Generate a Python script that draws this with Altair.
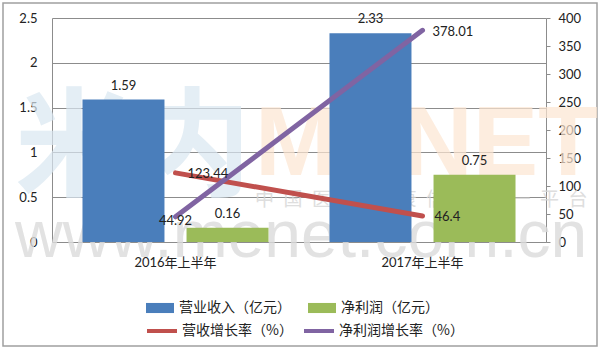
import altair as alt
import pandas as pd

categories = ["2016年上半年", "2017年上半年"]
revenue = [1.59, 2.33]
net_profit = [0.16, 0.75]
revenue_growth = [123.44, 46.4]
profit_growth = [44.92, 378.01]
left_ticks = [0, 0.5, 1, 1.5, 2, 2.5]
right_ticks = [0, 50, 100, 150, 200, 250, 300, 350, 400]

bar_series = ["营业收入（亿元）", "净利润（亿元）"]
line_series = ["营收增长率（%）", "净利润增长率（%）"]
bar_colors = ["#4a7ebb", "#9bbb59"]
line_colors = ["#c0504d", "#8064a2"]

FONT = "Lato, Noto Sans CJK SC"
CJK = "Noto Sans CJK SC"

bars_df = pd.DataFrame({
    "cat": categories * 2,
    "series": [bar_series[0]] * 2 + [bar_series[1]] * 2,
    "value": revenue + net_profit,
})
bars_df["label"] = bars_df["value"].map(lambda v: f"{v:g}")

lines_df = pd.DataFrame({
    "cat": categories * 2,
    "series": [line_series[0]] * 2 + [line_series[1]] * 2,
    "rate": revenue_growth + profit_growth,
})
lines_df["label"] = lines_df["rate"].map(lambda v: f"{v:g}")

x_scale = alt.Scale(domain=categories, paddingInner=0, paddingOuter=0)
x_axis = alt.Axis(
    title=None, labelAngle=0, ticks=False, domainColor="#8c8c8c",
    labelPadding=14, labelFontSize=13, labelColor="#222", labelFont=FONT,
)
y_left_scale = alt.Scale(domain=[0, 2.5], nice=False, zero=True)
y_right_scale = alt.Scale(domain=[0, 400], nice=False, zero=True)
offset_scale = alt.Scale(domain=bar_series, paddingInner=0.212, paddingOuter=0.293)

y_left_axis = alt.Axis(
    title=None, values=left_ticks, tickCount=6, format="~g", grid=True,
    gridColor="#8c8c8c", ticks=False, domainColor="#8c8c8c", labelPadding=15,
    labelFontSize=13, labelColor="#222", labelFont=FONT, labelOverlap=False,
)
y_right_axis = alt.Axis(
    title=None, orient="right", values=right_ticks, tickCount=9, grid=False,
    ticks=True, tickSize=4, tickColor="#8c8c8c", domainColor="#8c8c8c",
    labelPadding=8, labelFontSize=13, labelColor="#222", labelFont=FONT,
    labelOverlap=False,
)

# watermark (decoration)
wm = alt.Data(values=[{}])
wm_www = alt.Chart(wm).mark_text(
    text="www.menet.com.cn", font="Liberation Sans", fontSize=66, align="left",
    baseline="alphabetic", color="#dcdcdc", opacity=0.8,
).encode(x=alt.value(-37), y=alt.value(239))
wm_menet = alt.Chart(wm).mark_text(
    text="MENET", font="Liberation Sans", fontSize=98, fontWeight="bold", align="left",
    baseline="alphabetic", color="#fde6d2", opacity=0.7,
).encode(x=alt.value(203), y=alt.value(157))
wm_cn = alt.Chart(wm).mark_text(
    text="米内", font=CJK, fontSize=118, fontWeight="bold", align="left",
    baseline="middle", color="#d9e7f1", opacity=0.7,
).encode(x=alt.value(-37), y=alt.value(134))
wm_sub = alt.Chart(wm).mark_text(
    text="中\u2002国\u2002医\u2002药\u2002健\u2002康\u2002信\u2002息\u2002第\u2002一\u2002平\u2002台",
    font=CJK, fontSize=19, align="left", baseline="middle", color="#d6d6d6", opacity=0.8,
).encode(x=alt.value(203), y=alt.value(182))

border = alt.Chart(wm).mark_rect(fillOpacity=0, stroke="#a0a0a0", strokeWidth=1.5).encode(
    x=alt.value(-49), y=alt.value(-15), x2=alt.value(545), y2=alt.value(328)
)

X = alt.X("cat:N", scale=x_scale, axis=x_axis, sort=categories)
XO = alt.XOffset("series:N", scale=offset_scale, sort=bar_series)
YL = alt.Y("value:Q", scale=y_left_scale, axis=y_left_axis)
YR = alt.Y("rate:Q", scale=y_right_scale, axis=y_right_axis)

bars = alt.Chart(bars_df).mark_bar().encode(
    x=X, xOffset=XO, y=YL,
    fill=alt.Fill("series:N", scale=alt.Scale(domain=bar_series, range=bar_colors), sort=bar_series,
                  legend=alt.Legend(
                      title=None, orient="none", legendX=94, legendY=276, direction="horizontal",
                      columns=2, labelFont=CJK, labelFontSize=14, labelColor="#222",
                      symbolType="M-1,-0.36H1V0.36H-1Z", symbolSize=784, symbolStrokeWidth=0,
                      columnPadding=17, labelOffset=5, padding=0,
                  )),
)
bar_text = alt.Chart(bars_df).mark_text(
    font=FONT, fontSize=13, color="#222", baseline="middle", dy=-14,
).encode(x=X, xOffset=XO, y=YL, text="label:N")
left = alt.layer(bars, bar_text)

lines = alt.Chart(lines_df).mark_line(strokeWidth=5, strokeCap="round").encode(
    x=X, y=YR,
    stroke=alt.Stroke("series:N", scale=alt.Scale(domain=line_series, range=line_colors), sort=line_series,
                      legend=alt.Legend(
                          title=None, orient="none", legendX=93, legendY=296, direction="horizontal",
                          columns=2, labelFont=CJK, labelFontSize=14, labelColor="#222",
                          symbolType="stroke", symbolSize=900, symbolStrokeWidth=4,
                          columnPadding=3, labelOffset=3, padding=0,
                      )),
)
red_text = alt.Chart(lines_df).transform_filter(
    alt.datum.series == line_series[0]
).mark_text(font=FONT, fontSize=13, color="#222", align="left", baseline="middle", dx=12, dy=1).encode(
    x=X, y=YR, text="label:N"
)
purple_first = alt.Chart(lines_df).transform_filter(
    (alt.datum.series == line_series[1]) & (alt.datum.cat == categories[0])
).mark_text(font=FONT, fontSize=13, color="#222", align="center", baseline="middle", dy=4).encode(
    x=X, y=YR, text="label:N"
)
purple_last = alt.Chart(lines_df).transform_filter(
    (alt.datum.series == line_series[1]) & (alt.datum.cat == categories[1])
).mark_text(font=FONT, fontSize=13, color="#222", align="left", baseline="middle", dx=10, dy=2).encode(
    x=X, y=YR, text="label:N"
)
right = alt.layer(lines, red_text, purple_first, purple_last)

chart = alt.layer(
    border, wm_www, wm_cn, wm_menet, wm_sub, left, right
).resolve_scale(y="independent").properties(
    width=494, height=224,
    padding={"left": 52, "top": 18, "right": 54, "bottom": 109},
    autosize=alt.AutoSizeParams(type="none"),
    background="white",
).configure_view(stroke=None)

chart.save("out.html", embed_options={"renderer": "svg", "actions": False})
